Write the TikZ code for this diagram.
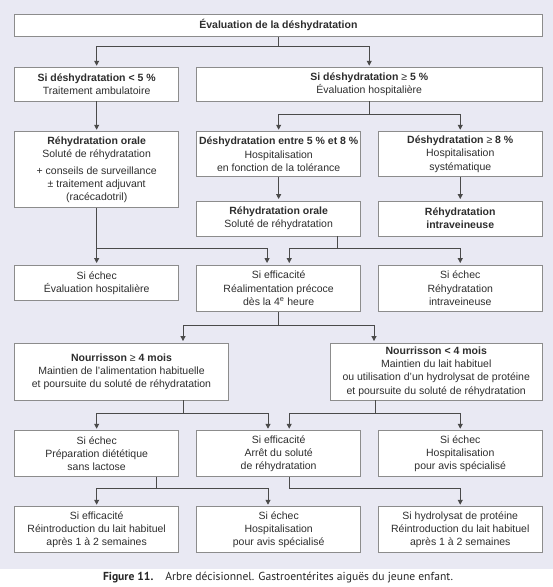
\documentclass[tikz,border=0pt]{standalone}
\usepackage{fontspec}
\setmainfont{Liberation Sans}
\newfontfamily\capfont{PT Sans}
\usetikzlibrary{arrows.meta,calc}
\definecolor{bg}{HTML}{E9E9F3}
\definecolor{bordergray}{HTML}{8C8C8C}
\definecolor{linegray}{HTML}{4A4A4A}
\definecolor{txt}{HTML}{2E2E2E}
\begin{document}
\begin{tikzpicture}[x=1pt,y=-1pt,
  box/.style={draw=bordergray, fill=white, line width=0.9pt, align=center, inner sep=0pt, text=txt, font=\fontsize{10.5}{13.2}\selectfont},
  lcol/.style={box, minimum width=163.7pt},
  mcol/.style={box, minimum width=164.3pt},
  rcol/.style={box, minimum width=163.5pt},
  arr/.style={draw=linegray, line width=1pt, -{Triangle[length=5pt,width=5pt]}, shorten >=1.5pt},
  ln/.style={draw=linegray, line width=1pt}]
\fill[bg] (0,0) rectangle (553,569);
\useasboundingbox (0,0) rectangle (553,587);

% row 1
\node[box, minimum width=527.2pt, minimum height=22.7pt] (top) at (278.4,25.35) {\textbf{Évaluation de la déshydratation}};
% row 2
\node[lcol, minimum height=33.3pt] (A) at (96.65,84.35) {\textbf{Si déshydratation < 5 \%}\\Traitement ambulatoire};
\node[box, minimum width=345.5pt, minimum height=33.3pt] (B) at (369.25,84.35) {\textbf{Si déshydratation} ≥ \textbf{5 \%}\\Évaluation hospitalière};
% row 3
\node[lcol, minimum height=75.6pt] (C) at (96.65,169.5) {\textbf{Réhydratation orale}\\Soluté de réhydratation\\[3.5pt]+ conseils de surveillance\\± traitement adjuvant\\(racécadotril)};
\node[mcol, minimum height=45pt] (D) at (278.65,154.2) {\textbf{Déshydratation entre 5 \% et 8 \%}\\Hospitalisation\\en fonction de la tolérance};
\node[rcol, minimum height=45pt] (E) at (460.25,154.2) {\textbf{Déshydratation} ≥ \textbf{8 \%}\\Hospitalisation\\systématique};
\node[mcol, minimum height=35pt] (F) at (278.65,218.5) {\textbf{Réhydratation orale}\\Soluté de réhydratation};
\node[rcol, minimum height=35pt] (G) at (460.25,218.5) {\textbf{Réhydratation}\\\textbf{intraveineuse}};
% row 4
\node[lcol, minimum height=35.7pt] (H) at (96.65,282.85) {Si échec\\Évaluation hospitalière};
\node[mcol, minimum height=46.7pt] (I) at (278.65,288.35) {Si efficacité\\Réalimentation précoce\\dès la 4\textsuperscript{e} heure};
\node[rcol, minimum height=46.7pt] (J) at (460.25,288.35) {Si échec\\Réhydratation\\intraveineuse};
% row 5
\node[box, minimum width=213.4pt, minimum height=57pt] (K) at (121.5,371.5) {\textbf{Nourrisson} ≥ \textbf{4 mois}\\Maintien de l'alimentation habituelle\\et poursuite du soluté de réhydratation};
\node[box, minimum width=211.5pt, minimum height=57pt] (L) at (436.25,371.5) {\textbf{Nourrisson < 4 mois}\\Maintien du lait habituel\\ou utilisation d'un hydrolysat de protéine\\et poursuite du soluté de réhydratation};
% row 6
\node[lcol, minimum height=46pt] (M) at (96.65,453.7) {Si échec\\Préparation diététique\\sans lactose};
\node[mcol, minimum height=46pt] (N) at (278.65,453.7) {Si efficacité\\Arrêt du soluté\\de réhydratation};
\node[rcol, minimum height=46pt] (O) at (460.25,453.7) {Si échec\\Hospitalisation\\pour avis spécialisé};
% row 7
\node[lcol, minimum height=45.6pt] (P) at (96.65,529.5) {Si efficacité\\Réintroduction du lait habituel\\après 1 à 2 semaines};
\node[mcol, minimum height=45.6pt] (Q) at (278.65,529.5) {Si échec\\Hospitalisation\\pour avis spécialisé};
\node[rcol, minimum height=45.6pt] (R) at (460.25,529.5) {Si hydrolysat de protéine\\Réintroduction du lait habituel\\après 1 à 2 semaines};

% caption
\node[font=\capfont\fontsize{11.6}{13}\selectfont, text=black!85] (cap) at (278,578) {\textbf{Figure 11.}\hspace{12pt}Arbre décisionnel. Gastroentérites aiguës du jeune enfant.};

% connectors
\coordinate (j1) at (278.4,46);
\draw[ln] (top.south) -- (j1);
\draw[arr] (j1) -| (A.north);
\draw[arr] (j1) -| (B.north);

\draw[arr] (A.south) -- (C.north);
\coordinate (j2) at (369.25,114.3);
\draw[ln] (B.south) -- (j2);
\draw[arr] (j2) -| (D.north);
\draw[arr] (j2) -| (E.north);
\draw[arr] (D.south) -- (F.north);
\draw[arr] (E.south) -- (G.north);

\coordinate (j3) at (96.65,248.3);
\draw[arr] (C.south) -- (H.north);
\draw[arr] (j3) -| ($(I.north)+(-11.6,0)$);
\coordinate (j4) at (337.6,248.3);
\draw[ln] (F.south -| j4) -- (j4);
\draw[arr] (j4) -| ($(I.north)+(10.6,0)$);
\draw[arr] (j4) -| (J.north);

\coordinate (j5) at (278.65,325);
\draw[ln] (I.south) -- (j5);
\draw[arr] (j5) -| ($(K.north)+(61.5,0)$);
\draw[arr] (j5) -| ($(L.north)+(-62.25,0)$);

\coordinate (j6) at (183,413.3);
\draw[ln] (K.south -| j6) -- (j6);
\draw[arr] (j6) -| (M.north);
\draw[arr] (j6) -| ($(N.north)+(-10.65,0)$);
\coordinate (j7) at (375.7,413.3);
\draw[ln] (L.south -| j7) -- (j7);
\draw[arr] (j7) -| ($(N.north)+(10.55,0)$);
\draw[arr] (j7) -| (O.north);

\coordinate (j8) at (156.3,488.3);
\draw[ln] (M.south -| j8) -- (j8);
\draw[arr] (j8) -| (P.north);
\draw[arr] (j8) -| ($(Q.north)+(-10.65,0)$);
\coordinate (j9) at (289.2,488.3);
\draw[ln] (N.south -| j9) -- (j9);
\draw[arr] (j9) -| (R.north);
\end{tikzpicture}
\end{document}
